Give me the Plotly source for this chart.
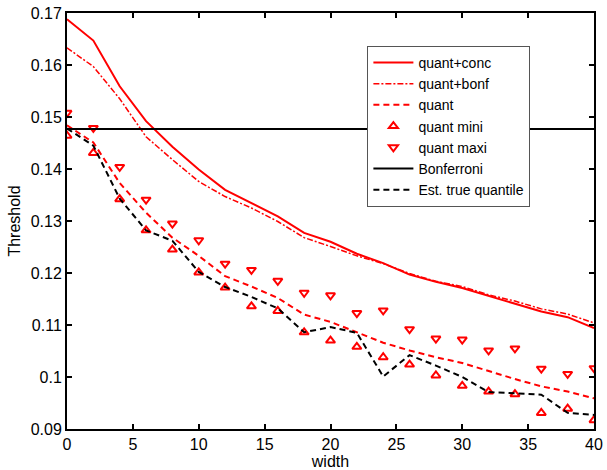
import plotly.graph_objects as go

width = [0, 2, 4, 6, 8, 10, 12, 14, 16, 18, 20, 22, 24, 26, 28, 30, 32, 34, 36, 38, 40]

quant_conc = [0.1688, 0.1647, 0.1559, 0.1492, 0.1443, 0.1399, 0.1360, 0.1335, 0.1309, 0.1277,
              0.1260, 0.1237, 0.1219, 0.1197, 0.1183, 0.1171, 0.1156, 0.1142, 0.1126, 0.1115, 0.1094]
quant_bonf = [0.1633, 0.1597, 0.1535, 0.1462, 0.1418, 0.1376, 0.1347, 0.1325, 0.1299, 0.1268,
              0.1251, 0.1233, 0.1218, 0.1199, 0.1184, 0.1174, 0.1158, 0.1146, 0.1131, 0.1121, 0.1104]
quant = [0.1484, 0.1451, 0.1373, 0.1316, 0.1268, 0.1233, 0.1194, 0.1174, 0.1152, 0.1120,
         0.1106, 0.1086, 0.1066, 0.1051, 0.1038, 0.1027, 0.1011, 0.0996, 0.0982, 0.0972, 0.0959]
quant_mini = [0.1464, 0.1431, 0.1342, 0.1282, 0.1245, 0.1201, 0.1172, 0.1136, 0.1127, 0.1086,
              0.1070, 0.1058, 0.1038, 0.1024, 0.1003, 0.0983, 0.0972, 0.0967, 0.0931, 0.0939, 0.0917]
quant_maxi = [0.1508, 0.1479, 0.1404, 0.1341, 0.1295, 0.1263, 0.1218, 0.1206, 0.1185, 0.1162,
              0.1157, 0.1123, 0.1128, 0.1092, 0.1074, 0.1072, 0.1051, 0.1055, 0.1016, 0.1006, 0.1017]
bonferroni = [0.1477] * len(width)
est_true = [0.1478, 0.1445, 0.1343, 0.1282, 0.1262, 0.1202, 0.1173, 0.1154, 0.1132, 0.1086,
            0.1096, 0.1085, 0.1001, 0.1042, 0.1022, 0.1000, 0.0971, 0.0968, 0.0966, 0.0931, 0.0927]

x_ticks = [0, 5, 10, 15, 20, 25, 30, 35, 40]
x_tick_labels = ["0", "5", "10", "15", "20", "25", "30", "35", "40"]
y_ticks = [0.09, 0.10, 0.11, 0.12, 0.13, 0.14, 0.15, 0.16, 0.17]
y_tick_labels = ["0.09", "0.1", "0.11", "0.12", "0.13", "0.14", "0.15", "0.16", "0.17"]

RED = "#FF0000"
FONT = "Liberation Sans, Arial, sans-serif"

fig = go.Figure()
fig.add_trace(go.Scatter(x=width, y=quant_conc, mode="lines", name="quant+conc",
                         line=dict(color=RED, width=2)))
fig.add_trace(go.Scatter(x=width, y=quant_bonf, mode="lines", name="quant+bonf",
                         line=dict(color=RED, width=1.5, dash="6px,2px,2px,2px")))
fig.add_trace(go.Scatter(x=width, y=quant, mode="lines", name="quant",
                         line=dict(color=RED, width=2, dash="6px,4px")))
fig.add_trace(go.Scatter(x=width, y=quant_mini, mode="markers", name="quant mini",
                         marker=dict(symbol="triangle-up-open", color=RED, size=8,
                                     line=dict(width=2, color=RED))))
fig.add_trace(go.Scatter(x=width, y=quant_maxi, mode="markers", name="quant maxi",
                         marker=dict(symbol="triangle-down-open", color=RED, size=8,
                                     line=dict(width=2, color=RED))))
fig.add_trace(go.Scatter(x=width, y=bonferroni, mode="lines", name="Bonferroni",
                         line=dict(color="black", width=2)))
fig.add_trace(go.Scatter(x=width, y=est_true, mode="lines", name="Est. true quantile",
                         line=dict(color="black", width=2, dash="6px,4px")))

axis_common = dict(showline=True, linecolor="black", linewidth=2, mirror="allticks",
                   ticks="inside", ticklen=5, tickwidth=1.5, tickcolor="black",
                   showgrid=False, zeroline=False,
                   tickfont=dict(family=FONT, size=16, color="black"))

fig.update_xaxes(range=[0, 40], tickvals=x_ticks, ticktext=x_tick_labels,
                 title=dict(text="width", font=dict(family=FONT, size=16, color="black"), standoff=4),
                 **axis_common)
fig.update_yaxes(range=[0.09, 0.17], tickvals=y_ticks, ticktext=y_tick_labels,
                 title=dict(text="Threshold", font=dict(family=FONT, size=16, color="black"), standoff=6),
                 **axis_common)

fig.update_layout(
    width=607, height=470,
    margin=dict(l=67, r=13, t=13, b=41, autoexpand=False),
    paper_bgcolor="white", plot_bgcolor="white",
    font=dict(family=FONT, size=16, color="black"),
    showlegend=True,
    legend=dict(x=0.570, y=0.921, xanchor="left", yanchor="top",
                bgcolor="white", bordercolor="#555555", borderwidth=1,
                font=dict(family=FONT, size=14, color="black"),
                tracegroupgap=0, itemwidth=40),
)

fig.write_html("out.html", config={"displayModeBar": False},
               post_script="document.body.style.margin='0';document.body.style.padding='0';")
